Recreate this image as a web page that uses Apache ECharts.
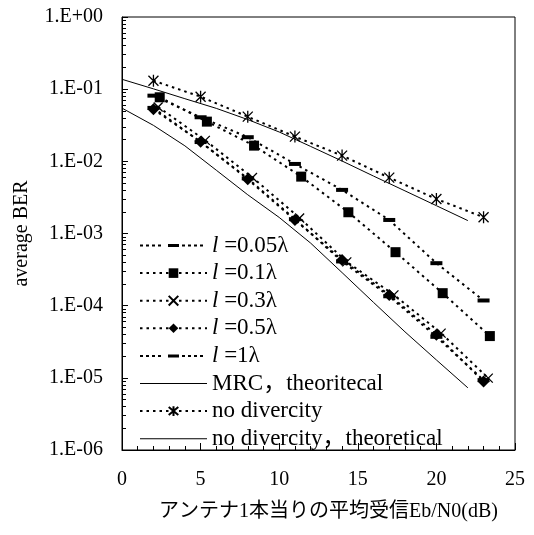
<!DOCTYPE html>
<html>
<head>
<meta charset="utf-8">
<script src="https://cdn.jsdelivr.net/npm/echarts@6/dist/echarts.min.js"></script>
<style>
  html, body { margin: 0; padding: 0; background: #fff; }
  #ber { width: 534px; height: 535px; }
</style>
</head>
<body>
<div id="ber"></div>
<script>
// Eb/N0 (dB) of the measured points
var xMeas = [2, 5, 8, 11, 14, 17, 20, 23]
var xSquare = [2.4, 5.4, 8.4, 11.4, 14.4, 17.4, 20.4, 23.4]
var xCross = [2.3, 5.3, 8.3, 11.3, 14.3, 17.3, 20.3, 23.3]
var xTheory = [0, 2, 4, 6, 8, 10, 12, 14, 16, 18, 20, 22]

// average BER
var ber005 = [0.0813, 0.0408, 0.0216, 0.0092, 0.00402, 0.00154, 0.000388, 0.000118]
var ber01 = [0.0772, 0.0355, 0.0165, 0.00614, 0.00197, 0.000551, 0.000149, 0.0000379]
var ber03 = [0.0567, 0.0195, 0.00597, 0.00164, 0.000404, 0.000141, 0.0000416, 0.0000099]
var ber05 = [0.0527, 0.0187, 0.00565, 0.00154, 0.000431, 0.000141, 0.0000394, 0.0000089]
var ber1 = [0.055, 0.0185, 0.0058, 0.00158, 0.00041, 0.000135, 0.000037, 0.0000093]
var berMrcTheory = [0.0546, 0.0315, 0.0164, 0.00753, 0.00344, 0.00167, 0.000736, 0.000287, 0.000111, 0.0000434, 0.0000177, 0.00000728]
var berNoDiv = [0.131, 0.0787, 0.0416, 0.022, 0.012, 0.00594, 0.00301, 0.00168]
var berNoDivTheory = [0.137, 0.101, 0.0738, 0.0542, 0.0379, 0.0255, 0.0161, 0.0101, 0.00625, 0.0039, 0.00243, 0.00151]

// minor ticks of the log axis (2..9 x 10^k)
var minorY = []
for (var k = -6; k < 0; k++) {
  for (var m = 2; m <= 9; m++) minorY.push(m * Math.pow(10, k))
}

var FONT = '"Liberation Serif", "Noto Sans CJK JP", serif'
var LEG_W = 67

function pairs (xs, ys) {
  return xs.map(function (x, i) { return [x, ys[i]] })
}

function sci (v) {
  var e = Math.round(Math.log10(v))
  return '1.E' + (e < 0 ? '-' : '+') + String(Math.abs(e)).padStart(2, '0')
}

var CROSS = 'path://M0,0L10,10M10,0L0,10'
var STAR = 'path://M0,0L10,10M10,0L0,10M5,-1L5,11'

// legend icon: dotted line with a short bar in the middle
function dashIcon () {
  var p = ''
  for (var x = 0; x + 3 <= LEG_W; x += 6) {
    if (x + 3 < 27 || x > 40) p += 'M' + x + ',1h3v2h-3z'
  }
  p += 'M28,0.5h11v3h-11z'
  return 'path://' + p + 'M0,0h0.01v0.01h-0.01zM' + LEG_W + ',4h-0.01v-0.01h0.01z'
}
var SOLID_ICON = 'path://M0,0h' + LEG_W + 'v1h-' + LEG_W + 'z'

function measured (name, xs, ys, symbol, size, stroke) {
  return {
    name: name,
    type: 'line',
    data: pairs(xs, ys),
    symbol: symbol,
    symbolSize: size,
    symbolKeepAspect: true,
    showAllSymbol: true,
    lineStyle: { color: '#000', width: 2, type: [2.5, 4] },
    itemStyle: stroke
      ? { color: 'rgba(0,0,0,0)', borderColor: '#000', borderWidth: 1.3 }
      : { color: '#000', borderWidth: 0 },
    emphasis: { disabled: true },
    animation: false
  }
}

function theory (name, ys) {
  return {
    name: name,
    type: 'line',
    data: pairs(xTheory, ys),
    symbol: 'none',
    lineStyle: { color: '#000', width: 1, type: 'solid' },
    itemStyle: { color: '#000' },
    emphasis: { disabled: true },
    animation: false
  }
}

var names = ['l =0.05λ', 'l =0.1λ', 'l =0.3λ', 'l =0.5λ', 'l =1λ',
  'MRC，theoritecal', 'no divercity', 'no divercity，theoretical']

var chart = echarts.init(document.getElementById('ber'))
chart.setOption({
  animation: false,
  grid: {
    left: 122, right: 19, top: 17, bottom: 85,
    show: true, borderColor: '#000', borderWidth: 1,
    outerBoundsMode: 'none'
  },
  legend: {
    orient: 'vertical',
    left: 139,
    top: 234,
    padding: 0,
    itemWidth: LEG_W,
    itemHeight: 12,
    itemGap: 4.6,
    symbolKeepAspect: true,
    textStyle: {
      fontFamily: FONT, fontSize: 23, color: '#000', lineHeight: 21,
      rich: { i: { fontFamily: FONT, fontSize: 23, fontStyle: 'italic', color: '#000' } }
    },
    formatter: function (n) {
      return n.indexOf('l =') === 0 ? '{i|l }' + n.slice(2) : n
    },
    data: [
      { name: names[0], icon: dashIcon() },
      { name: names[1] },
      { name: names[2] },
      { name: names[3] },
      { name: names[4], icon: dashIcon() },
      { name: names[5], icon: SOLID_ICON },
      { name: names[6] },
      { name: names[7], icon: SOLID_ICON }
    ]
  },
  xAxis: {
    type: 'value',
    min: 0, max: 25, interval: 5,
    name: 'アンテナ1本当りの平均受信Eb/N0(dB)',
    nameLocation: 'middle',
    nameGap: 52,
    nameTextStyle: { fontFamily: FONT, fontSize: 20, color: '#000', padding: [0, 0, 0, 20] },
    axisLine: { lineStyle: { color: '#000', width: 1 } },
    axisTick: { inside: true, length: 7, lineStyle: { color: '#000' } },
    minorTick: { show: true, splitNumber: 5, length: 4, lineStyle: { color: '#000' } },
    axisLabel: { fontFamily: FONT, fontSize: 20, color: '#000', margin: 20 },
    splitLine: { show: false }
  },
  yAxis: [
    {
      type: 'log',
      min: 1e-6, max: 1,
      name: 'average BER',
      nameLocation: 'middle',
      nameGap: 90,
      nameTextStyle: { fontFamily: FONT, fontSize: 20, color: '#000' },
      axisLine: { show: true, lineStyle: { color: '#000', width: 1 } },
      axisTick: { inside: true, length: 6, lineStyle: { color: '#000' } },
      axisLabel: { fontFamily: FONT, fontSize: 20, color: '#000', margin: 19, formatter: sci },
      splitLine: { show: false }
    },
    {
      type: 'log',
      min: 1e-6, max: 1,
      position: 'left',
      axisLine: { show: false },
      axisTick: { show: true, inside: true, length: 4, customValues: minorY, lineStyle: { color: '#000' } },
      axisLabel: { show: false },
      splitLine: { show: false }
    }
  ],
  series: [
    measured(names[0], xMeas, ber005, 'rect', [12, 4], false),
    measured(names[1], xSquare, ber01, 'rect', 10, false),
    measured(names[2], xCross, ber03, CROSS, 9, true),
    measured(names[3], xMeas, ber05, 'diamond', 12, false),
    measured(names[4], xMeas, ber1, 'rect', [12, 4], false),
    theory(names[5], berMrcTheory),
    measured(names[6], xMeas, berNoDiv, STAR, 12, true),
    theory(names[7], berNoDivTheory)
  ]
})
</script>
</body>
</html>
